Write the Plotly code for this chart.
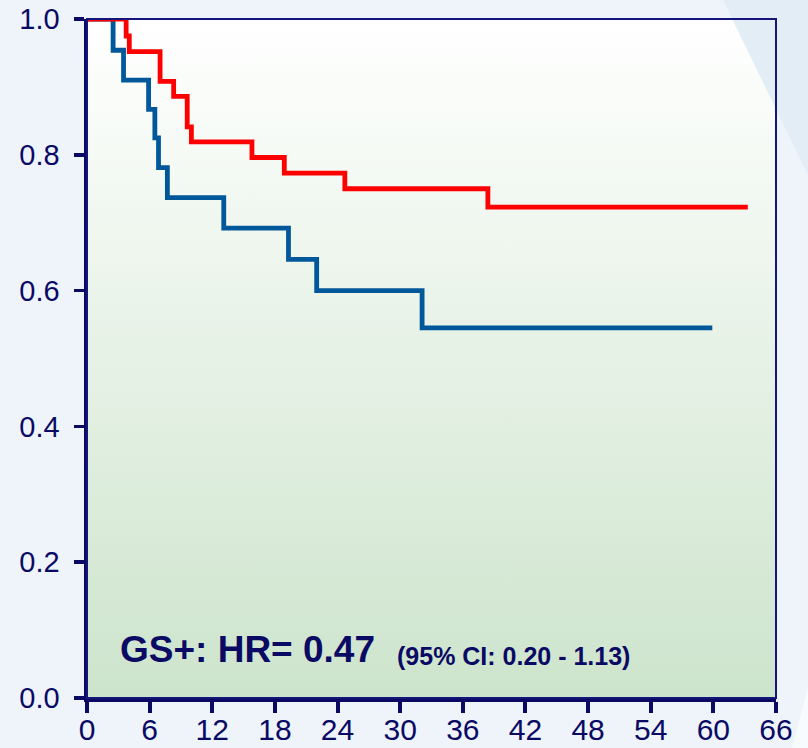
import base64
import plotly.graph_objects as go

# ---- data ----
blue_months = [0, 2.5, 3.5, 5.9, 6.5, 6.85, 7.7, 13.1, 19.3, 22.0, 32.1, 59.9]
blue_surv = [1.0, 0.954, 0.910, 0.867, 0.825, 0.781, 0.737, 0.692, 0.646, 0.600, 0.545, 0.545]

red_months = [0, 3.75, 4.05, 7.0, 8.3, 9.6, 10.0, 15.8, 18.9, 24.7, 38.4, 63.3]
red_surv = [1.0, 0.975, 0.952, 0.908, 0.886, 0.841, 0.819, 0.796, 0.773, 0.750, 0.723, 0.723]

x_ticks = [0, 6, 12, 18, 24, 30, 36, 42, 48, 54, 60, 66]
y_ticks = [0.0, 0.2, 0.4, 0.6, 0.8, 1.0]
y_tick_labels = ["0.0", "0.2", "0.4", "0.6", "0.8", "1.0"]

hr_text = "GS+: HR= 0.47"
ci_text = "(95% CI: 0.20 - 1.13)"

NAVY = "#0a0a64"
FONT = "Liberation Sans, Arial, sans-serif"
PAPER = "#eef4fa"

W, H = 808, 748
ML, MR, MT, MB = 87, 32, 19, 50
PW, PH = W - ML - MR, H - MT - MB


def px_to_paper(px, py):
    return (px - ML) / PW, (H - MB - py) / PH


fig = go.Figure()
fig.add_trace(go.Scatter(x=blue_months, y=blue_surv, mode="lines",
                         line=dict(color="#00589a", width=4.8, shape="hv"),
                         showlegend=False, hoverinfo="skip"))
fig.add_trace(go.Scatter(x=red_months, y=red_surv, mode="lines",
                         line=dict(color="#ff0000", width=4.8, shape="hv"),
                         showlegend=False, hoverinfo="skip"))

# gradient plot background (white -> light green)
svg = ('<svg xmlns="http://www.w3.org/2000/svg" width="10" height="100" viewBox="0 0 10 100" '
       'preserveAspectRatio="none"><defs><linearGradient id="g" x1="0" y1="0" x2="0" y2="1">'
       '<stop offset="0" stop-color="#ffffff"/><stop offset="1" stop-color="#cde4cc"/>'
       '</linearGradient></defs><rect x="0" y="0" width="10" height="100" fill="url(#g)"/></svg>')
src = "data:image/svg+xml;base64," + base64.b64encode(svg.encode()).decode()
fig.add_layout_image(dict(source=src, xref="paper", yref="paper", x=0, y=1,
                          sizex=1, sizey=1, sizing="stretch", xanchor="left",
                          yanchor="top", layer="below"))

# decorative background bands of the slide
p1 = px_to_paper(723, 0); p2 = px_to_paper(808, 0); p3 = px_to_paper(808, 175)
fig.add_shape(type="path", xref="paper", yref="paper", layer="below",
              path=f"M {p1[0]} {p1[1]} L {p2[0]} {p2[1]} L {p3[0]} {p3[1]} Z",
              fillcolor="#e3edf5", line=dict(width=0))
q1 = px_to_paper(808, 688); q2 = px_to_paper(808, 748); q3 = px_to_paper(792, 748)
fig.add_shape(type="path", xref="paper", yref="paper", layer="below",
              path=f"M {q1[0]} {q1[1]} L {q2[0]} {q2[1]} L {q3[0]} {q3[1]} Z",
              fillcolor="#f8fbfd", line=dict(width=0))

# thin frame (top/right)
fig.add_shape(type="rect", xref="paper", yref="paper", x0=0, y0=0, x1=1, y1=1,
              line=dict(color="#14147a", width=2), layer="above")

fig.add_annotation(x=3.0, y=0.072, text=f"<b>{hr_text}</b>", showarrow=False,
                   xanchor="left", yanchor="middle",
                   font=dict(family=FONT, size=37, color=NAVY))
fig.add_annotation(x=29.5, y=0.062, text=f"<b>{ci_text}</b>", showarrow=False,
                   xanchor="left", yanchor="middle",
                   font=dict(family=FONT, size=25, color=NAVY))

fig.update_xaxes(range=[0, 66], tickvals=x_ticks, ticktext=[str(v) for v in x_ticks],
                 showgrid=False, zeroline=False, showline=True, linecolor=NAVY,
                 linewidth=4, ticks="outside", ticklen=11, tickwidth=4, tickcolor=NAVY,
                 tickfont=dict(family=FONT, size=30, color=NAVY), fixedrange=True,
                 ticklabelstandoff=-9, automargin=False)
fig.update_yaxes(range=[0, 1.0], tickvals=y_ticks, ticktext=y_tick_labels,
                 showgrid=False, zeroline=False, showline=True, linecolor=NAVY,
                 linewidth=3.5, ticks="outside", ticklen=10, tickwidth=3.5, tickcolor=NAVY,
                 tickfont=dict(family=FONT, size=29, color=NAVY), fixedrange=True,
                 ticklabelstandoff=8, automargin=False)

fig.update_layout(width=W, height=H, autosize=False,
                  margin=dict(l=ML, r=MR, t=MT, b=MB, pad=0),
                  paper_bgcolor=PAPER, plot_bgcolor="rgba(0,0,0,0)",
                  showlegend=False)

fig.write_html("out.html", config={"displayModeBar": False, "staticPlot": True},
               post_script=f"document.body.style.margin='0';document.body.style.overflow='hidden';"
                           f"document.body.style.background='{PAPER}';")
